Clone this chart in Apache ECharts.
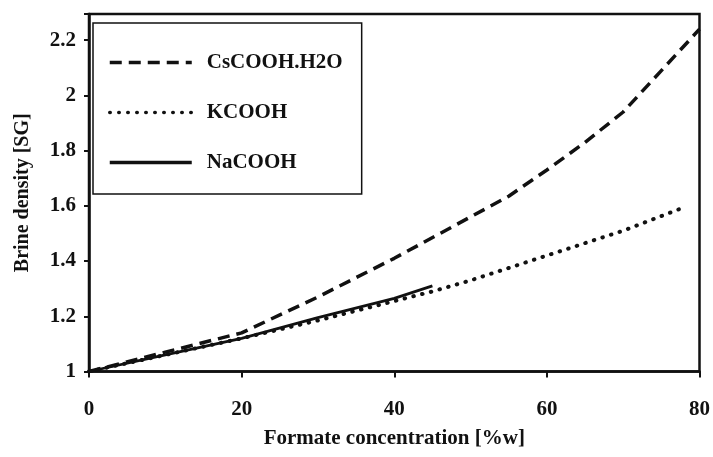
<!DOCTYPE html>
<html>
<head>
<meta charset="utf-8">
<script src="https://cdn.jsdelivr.net/npm/echarts@6/dist/echarts.min.js"></script>
<style>
  html, body { margin: 0; padding: 0; background: #fff; }
  #chart { width: 713px; height: 457px; }
</style>
</head>
<body>
<div id="chart"></div>
<script>
// Formate brine density (SG) versus formate concentration (% by weight)
const xTicks = [0, 20, 40, 60, 80];
const yTicks = [1, 1.2, 1.4, 1.6, 1.8, 2, 2.2];

const csConc = [0, 10, 20, 30, 40, 50, 55, 60, 65, 70, 75, 80];
const csDensity = [1.0, 1.07, 1.14, 1.27, 1.41, 1.56, 1.635, 1.73, 1.83, 1.94, 2.09, 2.24];

const kConc = [0, 10, 20, 30, 40, 45, 50, 60, 70, 78];
const kDensity = [1.0, 1.06, 1.12, 1.185, 1.255, 1.29, 1.33, 1.42, 1.51, 1.595];

const naConc = [0, 10, 20, 30, 40, 45];
const naDensity = [1.0, 1.06, 1.12, 1.195, 1.265, 1.31];

const pairs = (xs, ys) => xs.map((x, i) => [x, ys[i]]);

const serif = '"Liberation Serif", "DejaVu Serif", serif';
const ink = '#111';

const chart = echarts.init(document.getElementById('chart'), null, { renderer: 'canvas' });

chart.setOption({
  backgroundColor: '#fff',
  animation: false,
  color: [ink, ink, ink],
  grid: {
    left: 89, right: 10, top: 14, bottom: 85.5,
    show: true, borderColor: ink, borderWidth: 2.5
  },
  legend: {
    orient: 'vertical',
    left: 93, top: 23,
    padding: [29, 19, 21, 15],
    itemWidth: 82, itemHeight: 14, itemGap: 29,
    borderColor: ink, borderWidth: 1.5,
    backgroundColor: '#fff',
    itemStyle: { opacity: 0 },
    lineStyle: { width: 3.5 },
    textStyle: { fontFamily: serif, fontSize: 21, fontWeight: 'bold', color: ink, padding: [0, 0, 0, 10] },
    data: ['CsCOOH.H2O', 'KCOOH', 'NaCOOH']
  },
  xAxis: {
    type: 'value',
    min: xTicks[0], max: xTicks[xTicks.length - 1], interval: 20,
    name: 'Formate concentration [%w]',
    nameLocation: 'middle', nameGap: 57,
    nameTextStyle: { fontFamily: serif, fontSize: 21, fontWeight: 'bold', color: ink },
    axisLine: { show: true, lineStyle: { color: ink, width: 2.5 } },
    axisTick: { show: true, length: 6, lineStyle: { color: ink, width: 2 } },
    axisLabel: { margin: 28, fontFamily: serif, fontSize: 21, fontWeight: 'bold', color: ink },
    splitLine: { show: false }
  },
  yAxis: {
    type: 'value',
    min: yTicks[0], max: 2.295, interval: 0.2,
    name: 'Brine density [SG]',
    nameLocation: 'middle', nameGap: 56, nameRotate: 90,
    nameTextStyle: { fontFamily: serif, fontSize: 20, fontWeight: 'bold', color: ink },
    axisLine: { show: true, lineStyle: { color: ink, width: 2.5 } },
    axisTick: { show: true, length: 5, lineStyle: { color: ink, width: 2 } },
    axisLabel: {
      margin: 13, fontFamily: serif, fontSize: 21, fontWeight: 'bold', color: ink,
      formatter: v => yTicks.some(t => Math.abs(t - v) < 1e-6) ? String(+v.toFixed(1)) : ''
    },
    splitLine: { show: false }
  },
  series: [
    {
      name: 'CsCOOH.H2O', type: 'line', symbol: 'none', z: 3,
      data: pairs(csConc, csDensity),
      itemStyle: { color: ink },
      lineStyle: { color: ink, width: 3.5, type: [12, 7] }
    },
    {
      name: 'KCOOH', type: 'line', symbol: 'none', z: 2,
      data: pairs(kConc, kDensity),
      itemStyle: { color: ink },
      lineStyle: { color: ink, width: 4, type: [0.5, 8.5], cap: 'round' }
    },
    {
      name: 'NaCOOH', type: 'line', symbol: 'none', z: 4,
      data: pairs(naConc, naDensity),
      itemStyle: { color: ink },
      lineStyle: { color: ink, width: 2.8, type: 'solid' }
    }
  ]
});
</script>
</body>
</html>
